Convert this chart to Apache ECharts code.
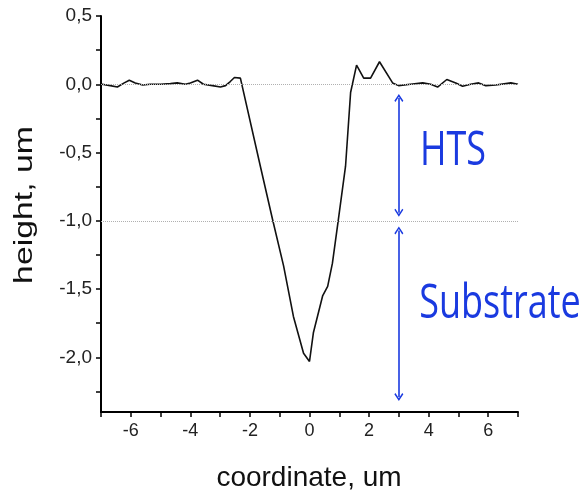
<!DOCTYPE html>
<html><head><meta charset="utf-8">
<script src="https://cdn.jsdelivr.net/npm/echarts@6/dist/echarts.min.js"></script>
<style>html,body{margin:0;padding:0;background:#fff}#c{width:588px;height:495px}</style>
</head><body><div id="c"></div>
<script>
// profile: coordinate (um) and height (um)
const coordX = [-6.97,-6.69,-6.45,-6.22,-6.05,-5.85,-5.60,-5.35,-5.00,-4.67,-4.44,-4.17,-4.00,-3.76,-3.56,-3.26,-2.99,-2.82,-2.66,-2.52,-2.32,
  -1.65,-1.24,-0.87,-0.54,-0.20,0.00,
  0.13,0.44,0.61,0.77,0.97,1.21,1.38,1.58,1.82,2.05,2.35,2.79,2.99,3.39,3.80,4.07,4.30,4.61,4.91,5.14,5.41,5.68,5.92,6.25,6.59,6.76,7.00];
const heightY = [0.00,-0.01,-0.02,0.01,0.03,0.01,-0.005,0.00,0.00,0.005,0.01,0.00,0.01,0.03,0.00,-0.01,-0.02,-0.01,0.02,0.05,0.045,
  -0.60,-0.99,-1.33,-1.70,-1.97,-2.03,
  -1.82,-1.55,-1.48,-1.31,-0.99,-0.60,-0.06,0.14,0.045,0.045,0.165,0.01,-0.01,0.00,0.01,0.00,-0.02,0.035,0.01,-0.015,0.00,0.01,-0.01,-0.005,0.005,0.01,0.00];

const yLabelValues = [0.5, 0, -0.5, -1, -1.5, -2];
const yTickValues = [0.5, 0.25, 0, -0.25, -0.5, -0.75, -1, -1.25, -1.5, -1.75, -2, -2.25];
const xLabelValues = [-6, -4, -2, 0, 2, 4, 6];
const xTickValues = [-7, -6, -5, -4, -3, -2, -1, 0, 1, 2, 3, 4, 5, 6, 7];
const refLines = [0, -1];
const htsArrow = [[3, -0.10], [3, -0.94]];
const substrateArrow = [[3, -1.07], [3, -2.29]];
const annotations = ['HTS', 'Substrate'];

const blue = '#1a3ae0';
const chevron = 'path://M5,0 L10,7 L8.8,8.2 L5,2.8 L1.2,8.2 L0,7 Z';

const chart = echarts.init(document.getElementById('c'), null, {renderer: 'canvas'});
const fmt = v => (Math.abs(v) < 1e-9 ? 0 : v).toFixed(1).replace('.', ',');

chart.setOption({
  animation: false,
  backgroundColor: '#fff',
  grid: {left: 101, right: 70, top: 16, bottom: 83, containLabel: false},
  xAxis: {
    type: 'value', min: -7, max: 7,
    axisLine: {show: true, onZero: false, lineStyle: {color: '#000', width: 2}},
    axisTick: {show: true, inside: false, length: 5, customValues: xTickValues, lineStyle: {color: '#000', width: 1.5}},
    axisLabel: {customValues: xLabelValues, color: '#222', fontFamily: 'Liberation Sans', fontSize: 18, margin: 10,
      formatter: v => String(v)},
    splitLine: {show: false}
  },
  yAxis: {
    type: 'value', min: -2.4, max: 0.5,
    axisLine: {show: true, onZero: false, lineStyle: {color: '#000', width: 2}},
    axisTick: {show: true, inside: false, length: 5, customValues: yTickValues, lineStyle: {color: '#000', width: 1.5}},
    axisLabel: {customValues: yLabelValues, color: '#222', fontFamily: 'Liberation Sans', fontSize: 19, margin: 9,
      formatter: fmt},
    splitLine: {show: false}
  },
  series: [
    {
      type: 'line',
      data: coordX.map((x, i) => [x, heightY[i]]),
      showSymbol: false, symbol: 'none',
      lineStyle: {color: '#111', width: 1.6},
      z: 3,
      markLine: {
        silent: true, symbol: 'none', label: {show: false},
        lineStyle: {color: '#b0b0b0', type: 'dotted', width: 1},
        data: refLines.map(v => ({yAxis: v}))
      }
    },
    {
      type: 'line', data: [], z: 4,
      markLine: {
        silent: true, symbol: [chevron, chevron], symbolSize: [9, 8], label: {show: false},
        lineStyle: {color: blue, type: 'solid', width: 1.6},
        itemStyle: {color: blue},
        data: [
          [{coord: htsArrow[0]}, {coord: htsArrow[1]}],
          [{coord: substrateArrow[0]}, {coord: substrateArrow[1]}]
        ]
      }
    }
  ],
  graphic: [
    {type: 'text', x: 453, y: 152, scaleY: 1.3,
      style: {text: annotations[0], fill: blue, font: '36px "Open Sans"', align: 'center', verticalAlign: 'middle'}},
    {type: 'text', x: 500, y: 305, scaleY: 1.3,
      style: {text: annotations[1], fill: blue, font: '36px "Open Sans"', align: 'center', verticalAlign: 'middle'}},
    {type: 'text', x: 25, y: 205, rotation: Math.PI / 2, scaleX: 1.3,
      style: {text: 'height, um', fill: '#111', font: '26px "Liberation Sans"', align: 'center', verticalAlign: 'middle'}},
    {type: 'text', x: 309, y: 478,
      style: {text: 'coordinate, um', fill: '#111', font: '28px "Liberation Sans"', align: 'center', verticalAlign: 'middle'}}
  ]
});
</script>
</body></html>
